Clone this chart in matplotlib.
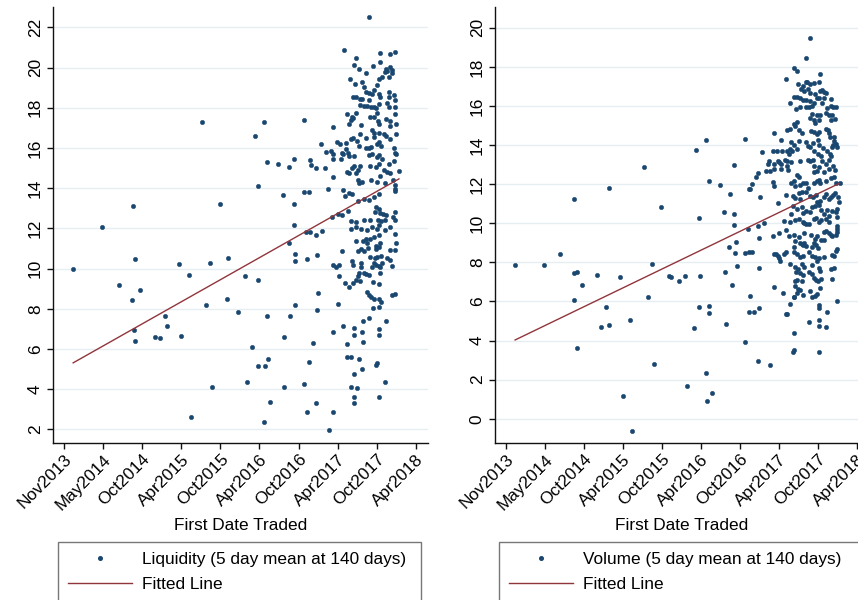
import matplotlib
matplotlib.use("Agg")
import matplotlib.pyplot as plt
from matplotlib.lines import Line2D
import numpy as np

plt.rcParams['font.family'] = ['Liberation Sans', 'DejaVu Sans']

# ---------------- data ----------------
# x: days since first tick date (Nov2013); ticks every 180 days
tick_days = [0, 180, 360, 540, 720, 900, 1080, 1260, 1440, 1620]
tick_labels = ["Nov2013", "May2014", "Oct2014", "Apr2015", "Oct2015",
               "Apr2016", "Oct2016", "Apr2017", "Oct2017", "Apr2018"]

liq_days = [
    41, 173, 250, 319, 313, 320, 328, 328, 351, 419, 443, 463, 472, 529, 538, 574, 585, 635, 655, 671,
    682, 720, 752, 756, 799, 833, 842, 866, 878, 891, 891, 891, 922, 922, 925, 934, 934, 941, 949, 986,
    1010, 1013, 1012, 1035, 1037, 1042, 1057, 1057, 1058, 1062, 1066, 1066, 1103, 1103, 1103, 1120, 1120, 1127, 1116, 1132,
    1132, 1138, 1129, 1145,
    1404, 1291, 1346, 1337, 1358, 1392, 1423, 1455, 1455, 1503, 1526, 1317, 1340, 1374, 1380, 1389, 1404, 1429, 1443, 1449,
    1463, 1477, 1484, 1490, 1503, 1509, 1513, 1497, 1331, 1343, 1364, 1374, 1407, 1420, 1453, 1457, 1495, 1498, 1518, 1527,
    1524, 1364, 1383, 1395, 1414, 1426, 1438, 1450, 1487, 1497, 1523, 1303, 1321, 1331, 1315, 1327, 1366, 1410, 1429, 1441,
    1446, 1450, 1484, 1503, 1504, 1529, 1346, 1241, 1185, 1208, 1231, 1241, 1257, 1269, 1280, 1297, 1300, 1321, 1331, 1351,
    1357, 1390, 1364, 1420, 1426, 1429, 1441, 1452, 1461, 1473, 1484, 1503, 1518, 1529, 1453, 1415, 1404, 1392, 1238, 1275,
    1284, 1306, 1314, 1337, 1404, 1417, 1441, 1450, 1464, 1497, 1518, 1524, 1530, 1201, 1161, 1303, 1315, 1326, 1337, 1343,
    1355, 1364, 1410, 1438, 1450, 1472, 1490, 1503, 1541, 1238, 1352, 1361, 1374, 1414, 1444, 1457, 1478, 1517, 1524, 1526,
    1527, 1287, 1295, 1311, 1327, 1214, 1429, 1452, 1355, 1380, 1406, 1309, 1281, 1260, 1235, 1435, 1450, 1431, 1457, 1469,
    1447, 1460, 1477, 1484, 1527, 1324, 1343, 1380, 1410, 1321, 1346, 1367, 1395, 1420, 1441, 1450, 1480, 1503, 1524, 1515,
    1186, 1161, 1343, 1377, 1392, 1398, 1410, 1429, 1435, 1450, 1450, 1457, 1527, 1530, 1524, 1281, 1352, 1370, 1380, 1401,
    1438, 1444, 1410, 1460, 1432, 1490, 1504, 1166, 1241, 1251, 1266, 1266, 1294, 1315, 1331, 1327, 1331, 1352, 1358, 1370,
    1370, 1380, 1392, 1404, 1417, 1423, 1426, 1438, 1450, 1457, 1450, 1457, 1466, 1512, 1500, 1364, 1343, 1395, 1404, 1414,
    1426, 1450, 1460, 1512, 1527, 1423, 1450, 1377, 1407, 1484, 1260, 1169, 1166, 1241, 1284, 1303, 1334, 1335, 1374, 1377,
    1450, 1453, 1303, 1324, 1358, 1374, 1438, 1444, 1334, 1324, 1349, 1478, 1450, 1334, 1337, 1161, 1241, 1221,
]
liq_vals = [
    9.98, 12.06, 9.16, 13.10, 8.42, 6.95, 10.48, 6.38, 8.95, 6.61, 6.53, 7.66, 7.14, 10.23, 6.65, 9.68, 2.63, 17.30, 8.21, 10.27,
    4.10, 13.22, 8.50, 10.53, 7.85, 9.62, 4.36, 6.08, 16.59, 14.11, 9.43, 5.16, 17.30, 2.38, 5.16, 15.28, 7.64, 5.50, 3.35, 15.22,
    13.66, 6.59, 4.10, 11.26, 15.03, 7.64, 15.47, 13.20, 12.19, 10.72, 10.36, 8.19, 17.41, 13.81, 4.27, 10.50, 2.88, 13.79, 11.81, 11.81,
    15.39, 15.14, 5.37, 6.29,
    22.50, 20.89, 20.49, 20.13, 19.93, 19.74, 20.09, 20.28, 20.71, 20.66, 20.79, 19.43, 19.18, 19.26, 19.01, 18.80, 18.75, 18.88, 19.15, 19.43,
    19.55, 19.79, 19.91, 19.84, 20.04, 19.88, 19.74, 19.55, 18.52, 18.55, 18.42, 18.43, 18.38, 18.67, 18.67, 18.55, 18.78, 18.55, 18.62, 18.38,
    18.05, 18.12, 18.09, 18.09, 18.05, 18.05, 18.00, 18.19, 18.25, 18.05, 17.69, 17.67, 17.39, 17.47, 17.19, 17.52, 17.12, 17.52, 17.56, 17.75,
    17.36, 17.19, 17.42, 17.09, 17.32, 17.19, 17.72, 17.04, 16.20, 15.78, 15.86, 15.70, 16.31, 16.20, 15.73, 15.96, 16.23, 16.43, 16.49, 16.36,
    16.11, 16.48, 16.69, 16.89, 16.73, 16.56, 16.20, 16.30, 16.10, 16.71, 16.59, 16.43, 16.00, 16.68, 16.73, 16.06, 15.98, 16.00, 15.47, 15.47,
    15.70, 15.76, 15.60, 15.60, 15.63, 15.70, 15.57, 15.65, 15.47, 15.20, 15.37, 15.73, 15.71, 15.02, 14.99, 14.82, 14.77, 14.99, 15.12, 14.74,
    14.90, 15.10, 15.12, 15.07, 15.20, 14.90, 14.80, 14.74, 14.87, 14.54, 14.40, 14.24, 14.32, 14.40, 14.32, 14.60, 14.24, 14.40, 14.16, 13.94,
    13.86, 13.92, 13.61, 13.77, 13.71, 13.97, 13.58, 13.71, 13.34, 13.48, 13.41, 12.85, 12.66, 12.71, 12.58, 13.04, 12.98, 12.81, 12.75, 12.70,
    12.41, 12.35, 12.41, 12.66, 12.81, 12.35, 12.32, 12.41, 12.41, 11.98, 12.05, 11.98, 11.92, 12.08, 11.98, 12.18, 11.92, 12.05, 12.41, 12.55,
    11.87, 11.65, 11.35, 11.39, 11.49, 11.25, 11.45, 11.55, 11.12, 11.65, 11.05, 11.25, 11.72, 11.29, 10.92, 10.89, 10.89, 10.96, 10.89, 11.00,
    10.96, 10.59, 10.59, 10.62, 10.51, 10.51, 10.42, 10.67, 10.16, 10.09, 10.16, 9.63, 9.26, 9.10, 9.30, 10.39, 10.18, 9.63, 9.76, 10.26,
    10.09, 9.79, 9.73, 9.69, 10.09, 9.33, 10.29, 10.16, 10.14, 10.09, 9.23, 9.79, 10.26, 10.13, 10.92, 9.40, 9.43, 8.85, 8.70, 8.57,
    8.47, 8.48, 8.33, 8.67, 8.72, 8.04, 8.10, 7.39, 7.54, 7.41, 8.25, 8.77, 7.94, 6.83, 7.14, 6.25, 7.02, 6.68, 6.83, 6.33,
    6.99, 6.69, 5.58, 5.62, 5.52, 5.02, 5.18, 5.28, 4.77, 4.09, 4.06, 4.35, 3.59, 3.59, 3.29, 3.29, 2.88, 1.97,
]

vol_days = [
    41, 173, 250, 315, 315, 326, 313, 349, 326, 421, 463, 437, 473, 473, 527, 538, 574, 583, 635, 673,
    655, 682, 715, 751, 760, 799, 828, 837, 866, 878, 893, 895, 893, 922, 922, 927, 936, 936, 936, 950,
    986, 1006, 1012, 1015, 1028, 1035, 1044, 1055, 1055, 1055, 1058, 1064, 1067, 1103, 1102, 1105, 1118, 1120, 1127, 1134,
    1123, 1134, 1127, 1120, 1145,
    1405, 1387, 1330, 1344, 1291, 1451, 1351, 1371, 1384, 1390, 1402, 1421, 1447, 1393, 1362, 1377, 1405, 1428, 1451, 1459,
    1470, 1479, 1331, 1344, 1313, 1359, 1371, 1387, 1405, 1424, 1436, 1448, 1470, 1461, 1502, 1482, 1501, 1510, 1525, 1384,
    1399, 1414, 1340, 1359, 1436, 1414, 1451, 1479, 1491, 1504, 1519, 1501, 1402, 1421, 1445, 1427, 1344, 1337, 1331, 1310,
    1300, 1353, 1365, 1408, 1421, 1447, 1436, 1479, 1488, 1491, 1498, 1513, 1516, 1525, 1510, 1528, 1504, 1236, 1270, 1316,
    1331, 1353, 1387, 1393, 1405, 1417, 1439, 1448, 1464, 1482, 1498, 1424, 1442, 1457, 1183, 1233, 1251, 1274, 1297, 1313,
    1307, 1322, 1344, 1214, 1208, 1236, 1254, 1263, 1270, 1288, 1300, 1316, 1297, 1303, 1270, 1239, 1220, 1202, 1162, 1359,
    1393, 1405, 1417, 1421, 1436, 1424, 1448, 1461, 1479, 1491, 1501, 1510, 1519, 1467, 1491, 1344, 1353, 1328, 1316, 1334,
    1359, 1374, 1387, 1393, 1421, 1436, 1448, 1451, 1479, 1501, 1513, 1525, 1541, 1233, 1236, 1153, 1291, 1325, 1337, 1356,
    1353, 1365, 1387, 1405, 1417, 1430, 1436, 1451, 1470, 1479, 1491, 1501, 1510, 1519, 1534, 1538, 1531, 1525, 1528, 1254,
    1325, 1344, 1365, 1374, 1387, 1402, 1414, 1427, 1445, 1454, 1467, 1482, 1491, 1507, 1171, 1282, 1310, 1316, 1337, 1353,
    1371, 1377, 1387, 1399, 1421, 1433, 1445, 1457, 1479, 1494, 1528, 1531, 1479, 1467, 1491, 1501, 1507, 1528, 1525, 1190,
    1162, 1168, 1233, 1263, 1291, 1307, 1331, 1353, 1377, 1411, 1427, 1436, 1454, 1470, 1337, 1359, 1365, 1371, 1377, 1387,
    1424, 1430, 1439, 1414, 1399, 1331, 1285, 1291, 1245, 1254, 1260, 1267, 1236, 1328, 1344, 1356, 1374, 1414, 1427, 1436,
    1445, 1470, 1507, 1513, 1525, 1528, 1313, 1334, 1347, 1368, 1377, 1414, 1448, 1451, 1501, 1513, 1340, 1359, 1334, 1344,
    1365, 1374, 1399, 1414, 1424, 1433, 1442, 1454, 1507, 1451, 1337, 1347, 1344, 1331, 1356, 1374, 1405, 1414, 1427, 1436,
    1528, 1279, 1236, 1310, 1328, 1448, 1448, 1482, 1448, 1445, 1476, 1399, 1300, 1294, 1331, 1331, 1325, 1445, 1168, 1162,
    1220, 1168,
]
vol_vals = [
    7.86, 7.86, 8.42, 11.22, 7.48, 7.50, 6.08, 6.85, 3.64, 7.36, 5.71, 4.70, 4.81, 11.79, 7.25, 1.15, 5.06, -0.65, 12.90, 7.90,
    6.23, 2.82, 10.81, 7.31, 7.25, 7.06, 7.31, 1.67, 4.66, 13.77, 10.26, 7.31, 5.71, 14.27, 2.32, 0.90, 12.14, 5.77, 5.41, 1.34,
    11.95, 10.57, 7.50, 4.87, 8.78, 11.49, 6.85, 12.98, 10.45, 9.91, 8.49, 9.05, 7.80, 14.32, 8.49, 3.95, 9.72, 11.74, 11.74, 12.00,
    8.53, 8.53, 6.29, 5.45, 5.45,
    19.48, 18.46, 17.93, 17.80, 17.40, 17.64, 17.10, 17.03, 17.23, 17.20, 17.13, 17.16, 17.20, 16.89, 16.89, 16.76, 16.64, 16.59, 16.76, 16.80,
    16.69, 16.66, 16.48, 16.48, 16.16, 16.39, 16.31, 16.31, 16.26, 16.14, 16.43, 16.39, 16.39, 16.16, 16.33, 15.89, 16.02, 15.96, 15.93, 15.96,
    15.96, 16.02, 15.86, 15.93, 15.56, 15.59, 15.53, 15.64, 15.53, 15.56, 15.31, 15.26, 15.39, 15.29, 15.29, 15.14, 15.19, 14.97, 15.09, 14.80,
    14.79, 14.79, 14.59, 14.72, 14.69, 14.69, 14.56, 14.82, 14.76, 14.59, 14.39, 14.39, 14.19, 14.06, 13.99, 13.92, 13.89, 14.59, 14.26, 14.16,
    14.02, 14.22, 14.16, 13.96, 13.89, 14.09, 14.26, 14.02, 13.86, 13.69, 13.55, 13.69, 13.52, 13.42, 13.62, 13.72, 13.72, 13.72, 13.69, 13.81,
    13.55, 13.72, 13.79, 13.19, 13.05, 13.05, 13.19, 13.12, 13.05, 13.25, 13.19, 13.12, 12.92, 12.72, 12.79, 12.75, 12.65, 12.69, 12.55, 13.19,
    13.25, 13.16, 13.22, 12.92, 12.69, 12.62, 12.89, 13.19, 13.05, 13.25, 13.45, 12.95, 12.72, 12.62, 12.75, 12.49, 12.35, 12.15, 12.05, 11.88,
    11.95, 12.08, 12.05, 11.78, 12.08, 12.15, 12.22, 12.05, 12.15, 12.29, 12.39, 12.08, 12.05, 12.13, 11.88, 12.39, 11.45, 11.39, 11.28, 11.22,
    11.55, 11.61, 11.61, 11.39, 11.32, 11.45, 11.08, 11.15, 11.32, 11.51, 11.25, 11.35, 11.42, 11.55, 11.32, 11.08, 10.71, 10.55, 10.31, 11.05,
    10.88, 10.75, 10.82, 10.51, 10.61, 10.55, 10.82, 10.88, 10.92, 10.68, 10.48, 10.68, 10.38, 10.61, 11.35, 10.11, 10.08, 10.45, 10.15, 10.21,
    10.08, 10.01, 9.95, 9.95, 10.21, 10.28, 10.05, 10.18, 10.21, 10.05, 9.88, 9.68, 9.61, 9.55, 9.48, 9.41, 9.35, 9.55, 9.38, 10.01,
    9.88, 9.24, 9.35, 9.48, 9.65, 9.35, 9.38, 9.31, 9.48, 9.41, 9.21, 9.35, 9.15, 9.15, 9.08, 9.01, 8.95, 8.88, 8.98, 8.85,
    9.01, 8.88, 8.71, 8.81, 8.54, 8.78, 8.41, 8.54, 8.44, 8.35, 8.21, 8.07, 8.41, 8.51, 8.41, 8.28, 8.35, 8.35, 8.25, 8.07,
    8.21, 8.28, 8.38, 8.31, 8.58, 8.68, 7.94, 7.77, 7.68, 7.91, 7.74, 7.87, 7.71, 7.54, 7.68, 7.71, 7.51, 7.48, 7.04, 7.11,
    7.07, 7.37, 7.51, 7.41, 7.21, 7.11, 7.04, 7.14, 7.17, 6.67, 6.81, 6.64, 6.44, 6.21, 6.57, 6.31, 6.51, 6.21, 6.27, 6.37,
    6.04, 6.44, 6.74, 5.87, 6.24, 5.84, 5.67, 5.47, 5.04, 4.74, 4.71, 4.96, 5.34, 5.37, 4.37, 3.53, 3.40, 3.40, 5.64, 2.93,
    2.73, 7.71,
]

# fitted lines (endpoints)
liq_fit_days = [41, 1543]
liq_fit_vals = [5.31, 14.46]
vol_fit_days = [41, 1540]
vol_fit_vals = [4.03, 12.04]

liq_yticks = list(range(2, 23, 2))
vol_yticks = list(range(0, 21, 2))

x_title = "First Date Traded"
liq_label = "Liquidity (5 day mean at 140 days)"
vol_label = "Volume (5 day mean at 140 days)"
fit_label = "Fitted Line"

# ---------------- style ----------------
NAVY = "#1a476f"
MAROON = "#90353b"
GRID = "#e6eef1"
W, H = 858, 600
FS = 12.4

fig = plt.figure(figsize=(W / 100, H / 100), dpi=100)


def fx(px):
    return px / W


def fy(py):
    return 1 - py / H


def panel(left_px, right_px, days, vals, fdays, fvals, yticks, ylim, label,
          leg_left_px, leg_right_px):
    ax = fig.add_axes([fx(left_px), fy(443), fx(right_px - left_px), (443 - 7) / H])
    ax.set_xlim(-52, 1677)
    ax.set_ylim(*ylim)
    for s in ("top", "right"):
        ax.spines[s].set_visible(False)
    for s in ("left", "bottom"):
        ax.spines[s].set_linewidth(1.0)
        ax.spines[s].set_color("#111111")
    ax.set_yticks(yticks)
    ax.set_yticklabels([str(v) for v in yticks], rotation=90, va="center",
                       fontsize=FS)
    ax.set_xticks(tick_days)
    ax.set_xticklabels(tick_labels, rotation=45, ha="right",
                       rotation_mode="anchor", fontsize=FS)
    ax.tick_params(axis="both", length=4.3, width=1.0, color="#111111", pad=3)
    ax.tick_params(axis="x", pad=2)
    ax.grid(axis="y", color=GRID, linewidth=1.0)
    ax.set_axisbelow(True)
    ax.plot(days, vals, linestyle="none", marker="o", markersize=3.2,
            markerfacecolor=NAVY, markeredgecolor=NAVY, markeredgewidth=0.3,
            zorder=3)
    ax.plot(fdays, fvals, color=MAROON, linewidth=1.0, zorder=4)
    ax.set_xlabel(x_title, fontsize=FS, labelpad=4)

    handles = [
        Line2D([], [], linestyle="none", marker="o", markersize=2.6,
               markerfacecolor=NAVY, markeredgecolor=NAVY),
        Line2D([], [], color=MAROON, linewidth=1.0),
    ]
    bx0 = fx(leg_left_px)
    bw = fx(leg_right_px - leg_left_px)
    leg = fig.legend(handles, [label, fit_label], loc="upper left",
                     bbox_to_anchor=(bx0, fy(541.7) - 0.12, bw, 0.12),
                     bbox_transform=fig.transFigure, mode="expand",
                     borderaxespad=0, fontsize=FS, frameon=True,
                     fancybox=False, borderpad=0.58, labelspacing=0.6,
                     handlelength=3.7, handletextpad=0.6)
    leg.get_frame().set_edgecolor("#555555")
    leg.get_frame().set_linewidth(1.0)
    return ax


panel(53, 428, liq_days, liq_vals, liq_fit_days, liq_fit_vals, liq_yticks,
      (1.323, 23.01), liq_label, 58.3, 421)
panel(495, 869, vol_days, vol_vals, vol_fit_days, vol_fit_vals, vol_yticks,
      (-1.24, 21.06), vol_label, 499.3, 865)

fig.savefig("out.png", dpi=100)
